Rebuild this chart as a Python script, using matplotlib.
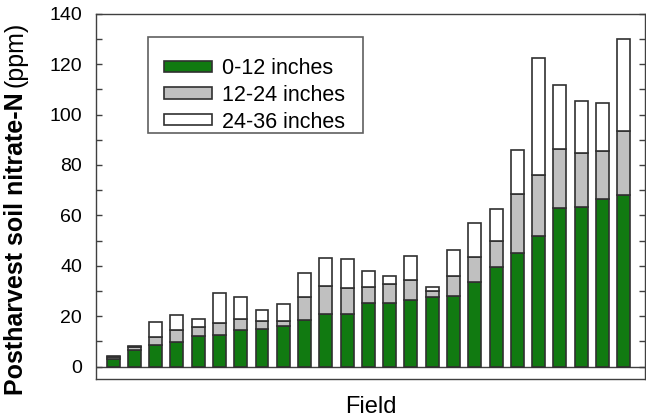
import numpy as np
import matplotlib.pyplot as plt
from matplotlib.patches import Rectangle
from matplotlib.ticker import MultipleLocator

plt.rcParams['font.family'] = ['Liberation Sans', 'DejaVu Sans']

# nitrate-N (ppm) per depth, fields sorted by 0-12 in. value
depth_labels = ["0-12 inches", "12-24 inches", "24-36 inches"]
n_0_12 = [3.2, 6.5, 8.6, 9.9, 12.3, 12.6, 14.6, 15.1, 16.1, 18.7, 20.8, 21.0, 25.3,
          25.3, 26.6, 27.7, 27.9, 33.6, 39.6, 45.1, 52.0, 63.0, 63.2, 66.7, 68.1]
n_12_24 = [0.6, 1.2, 3.2, 4.5, 3.3, 4.7, 4.4, 2.9, 2.2, 9.0, 11.2, 10.1, 6.3,
           7.6, 7.8, 2.5, 8.1, 9.9, 10.4, 23.3, 24.1, 23.4, 21.7, 18.9, 25.3]
n_24_36 = [0.3, 0.5, 5.8, 6.0, 3.2, 11.8, 8.5, 4.3, 6.4, 9.5, 11.1, 11.8, 6.2,
           3.2, 9.6, 1.4, 10.4, 13.5, 12.7, 17.7, 46.5, 25.5, 20.4, 19.0, 36.5]

colors = ['#117a11', '#c0c0c0', 'white']
edge = '#303030'

x = np.arange(1, len(n_0_12) + 1)

fig = plt.figure(figsize=(6.46, 4.18), dpi=100)
ax = fig.add_axes([0.1486, 0.0926, 0.85, 0.8746])

bottom = np.zeros(len(x))
for vals, c, lab in zip([n_0_12, n_12_24, n_24_36], colors, depth_labels):
    ax.bar(x, vals, width=0.61, bottom=bottom, color=c, edgecolor=edge,
           linewidth=1.2, label=lab, zorder=3)
    bottom += np.array(vals)

ax.axhline(0, color='#404040', linewidth=1, zorder=2)

ax.set_xlim(0.2, 26.0)
ax.set_ylim(-5, 140)
ax.yaxis.set_major_locator(MultipleLocator(20))
ax.yaxis.set_minor_locator(MultipleLocator(10))
ax.set_yticks(np.arange(0, 141, 20))
ax.set_xticks([])
ax.tick_params(axis='y', which='both', direction='in', right=True, length=4,
               width=1, color='#404040', labelsize=14, pad=10)
for s in ax.spines.values():
    s.set_color('#404040')
    s.set_linewidth(1)

ax.set_xlabel("Field", fontsize=17, labelpad=12)

# legend without frame, box drawn separately
leg = ax.legend(loc='upper left', bbox_to_anchor=(0.1239, 0.879), borderaxespad=0,
                fontsize=15.5, frameon=False, borderpad=0,
                handlelength=2.25, handleheight=0.42, labelspacing=0.27,
                handletextpad=0.45)
ax.add_patch(Rectangle((0.0947, 0.6737), 0.3916, 0.2626, transform=ax.transAxes,
                       facecolor='none', edgecolor='#606060', linewidth=1.2,
                       zorder=5))

# y label: bold part plus regular "(ppm)"
t1 = fig.text(0.024, 0.055, "Postharvest soil nitrate-N", rotation=90,
              ha='center', va='bottom', fontsize=18, fontweight='bold')
fig.canvas.draw()
bb = t1.get_window_extent().transformed(fig.transFigure.inverted())
fig.text(0.024, bb.y1 + 0.012, "(ppm)", rotation=90, ha='center', va='bottom',
         fontsize=18)

fig.savefig("out.png", dpi=100)
